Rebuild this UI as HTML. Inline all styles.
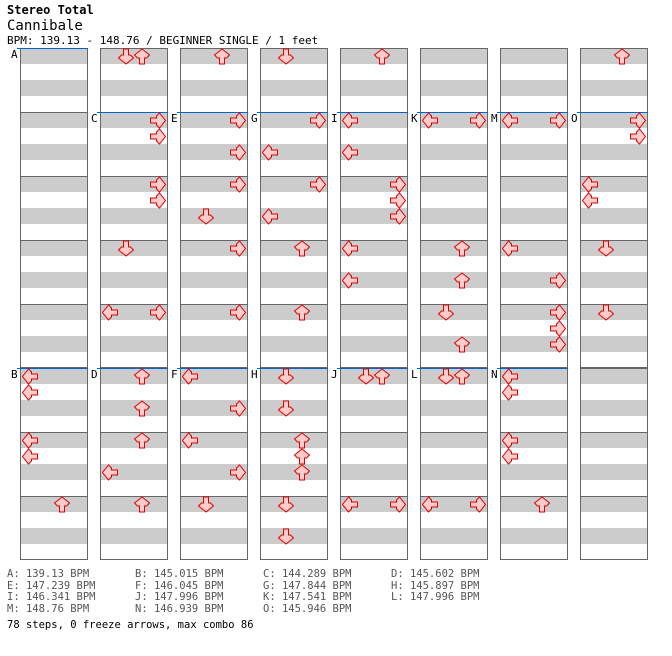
<!DOCTYPE html>
<html><head><meta charset="utf-8"><style>
body{margin:0;background:#fff;width:672px;height:656px;overflow:hidden;font-family:"DejaVu Sans Mono","Liberation Mono",monospace}
.t{position:absolute;white-space:pre;}
</style></head><body>
<svg id="chart" width="672" height="656" style="position:absolute;left:0;top:0" xmlns="http://www.w3.org/2000/svg"></svg>
<div class="t" style="left:7px;top:3px;font-size:12px;font-weight:bold;">Stereo Total</div>
<div class="t" style="left:7px;top:18px;font-size:14px;">Cannibale</div>
<div class="t" style="left:7px;top:34px;font-size:11px;">BPM: 139.13 - 148.76 / BEGINNER SINGLE / 1 feet</div>
<div style="position:absolute;left:0;top:569px;font-size:10.5px;color:#555;line-height:11.5px">
<div class="t" style="left:7px;top:0">A: 139.13 BPM
E: 147.239 BPM
I: 146.341 BPM
M: 148.76 BPM</div>
<div class="t" style="left:135px;top:0">B: 145.015 BPM
F: 146.045 BPM
J: 147.996 BPM
N: 146.939 BPM</div>
<div class="t" style="left:263px;top:0">C: 144.289 BPM
G: 147.844 BPM
K: 147.541 BPM
O: 145.946 BPM</div>
<div class="t" style="left:391px;top:0">D: 145.602 BPM
H: 145.897 BPM
L: 147.996 BPM</div>
</div>
<div class="t" style="left:7px;top:619px;font-size:10.5px;color:#000">78 steps, 0 freeze arrows, max combo 86</div>
<script>
// note data: global measure index, position in quarter beats, lane (0=L,1=D,2=U,3=R)
const noteMeasures=[5,5,6,6,7,7,8,9,9, 10,11,11,12,12,13,14, 15,16,16,17,17,18,19, 20,21,21,22,22,22,23,23, 26,26,28,28,29,29, 31,31,33,33,34,34,34, 35,36,36,37,37,38,39,
40,40,41,41,42, 43,43,44,44,45, 46,46,47,47,48, 49,49,50,50,50,51,51, 52,52,54,54, 55,55,57,57, 58,58,59,59,60];
const notePositions=[0,0,0,1,0,1,0,0,0, 0,0,2,0,2,0,0, 0,0,2,0,2,0,0, 0,0,2,0,1,2,0,2, 0,0,0,2,0,2, 0,0,0,2,0,1,2, 0,0,1,0,1,0,0,
0,1,0,1,0, 0,2,0,2,0, 0,2,0,2,0, 0,2,0,1,2,0,2, 0,0,0,0, 0,0,0,0, 0,1,0,1,0];
const noteLanes=[1,2,3,3,3,3,1,0,3, 2,3,3,3,1,3,3, 1,3,0,3,0,2,2, 2,0,0,3,3,3,0,0, 0,3,2,2,1,2, 0,3,0,3,3,3,3, 2,3,3,0,0,1,1,
0,0,0,0,2, 2,2,2,0,2, 0,3,0,3,1, 1,1,2,2,2,1,1, 1,2,0,3, 1,2,0,3, 0,0,0,0,2];
const bpmLabels=["A","C","E","G","I","K","M","O","B","D","F","H","J","L","N"];
const bpmMeasures=[0,6,11,16,21,26,31,36,40,43,46,49,52,55,58];

const NS="http://www.w3.org/2000/svg";
const svg=document.getElementById('chart');
function mk(tag,attrs){const e=document.createElementNS(NS,tag);for(const k in attrs)e.setAttribute(k,attrs[k]);svg.appendChild(e);return e;}
function measurePos(m){
  if(m<40){return [20+Math.floor(m/5)*80, 48+(m%5)*64];}
  const k=m-40;return [20+Math.floor(k/3)*80, 368+(k%3)*64];
}
for(let m=0;m<64;m++){
  const [x,y]=measurePos(m);
  const g=mk('rect',{x:x,y:y,width:68,height:64,fill:'#fff'});
  
  
  for(let b=0;b<4;b+=2){const s=mk('rect',{x:x,y:y+b*16,width:68,height:16,fill:'#ccc'});
    
    }
  const l=mk('line',{x1:x,y1:y+0.5,x2:x+68,y2:y+0.5,stroke:'#666','stroke-width':1});
  
  
}
for(let c=0;c<8;c++){
  const x=20+c*80;
  const r1=mk('rect',{x:x+0.5,y:48.5,width:67,height:319,fill:'none',stroke:'#666'});
  
  
  const r2=mk('rect',{x:x+0.5,y:368.5,width:67,height:191,fill:'none',stroke:'#666'});
  
  
}
bpmLabels.forEach((lab,i)=>{
  const [x,y]=measurePos(bpmMeasures[i]);
  const ln=mk('line',{x1:x-3,y1:y+0.5,x2:x+68,y2:y+0.5,stroke:'#0066cc','stroke-width':1});
  
  
  const t=mk('text',{x:x-9,y:y+10,'font-size':'11','font-family':'DejaVu Sans Mono, Liberation Mono, monospace',fill:'#000'});
  t.textContent=lab;
  
  
});
const rot=[90,0,180,270];
const P="M5.5,0.5 H10.5 V6.5 H12.5 L15.5,9.5 L8,15.5 L0.5,9.5 L3.5,6.5 H5.5 Z";
for(let i=0;i<noteMeasures.length;i++){
  const [x,y]=measurePos(noteMeasures[i]);
  const ax=x+2+noteLanes[i]*16, ay=y+0.5+notePositions[i]*16;
  const a=mk('path',{d:P,fill:'#ffcccc',stroke:'#dd0000','stroke-width':1,
    transform:`translate(${ax},${ay}) rotate(${rot[noteLanes[i]]} 8 8)`});
  
  
}
</script>
</body></html>
